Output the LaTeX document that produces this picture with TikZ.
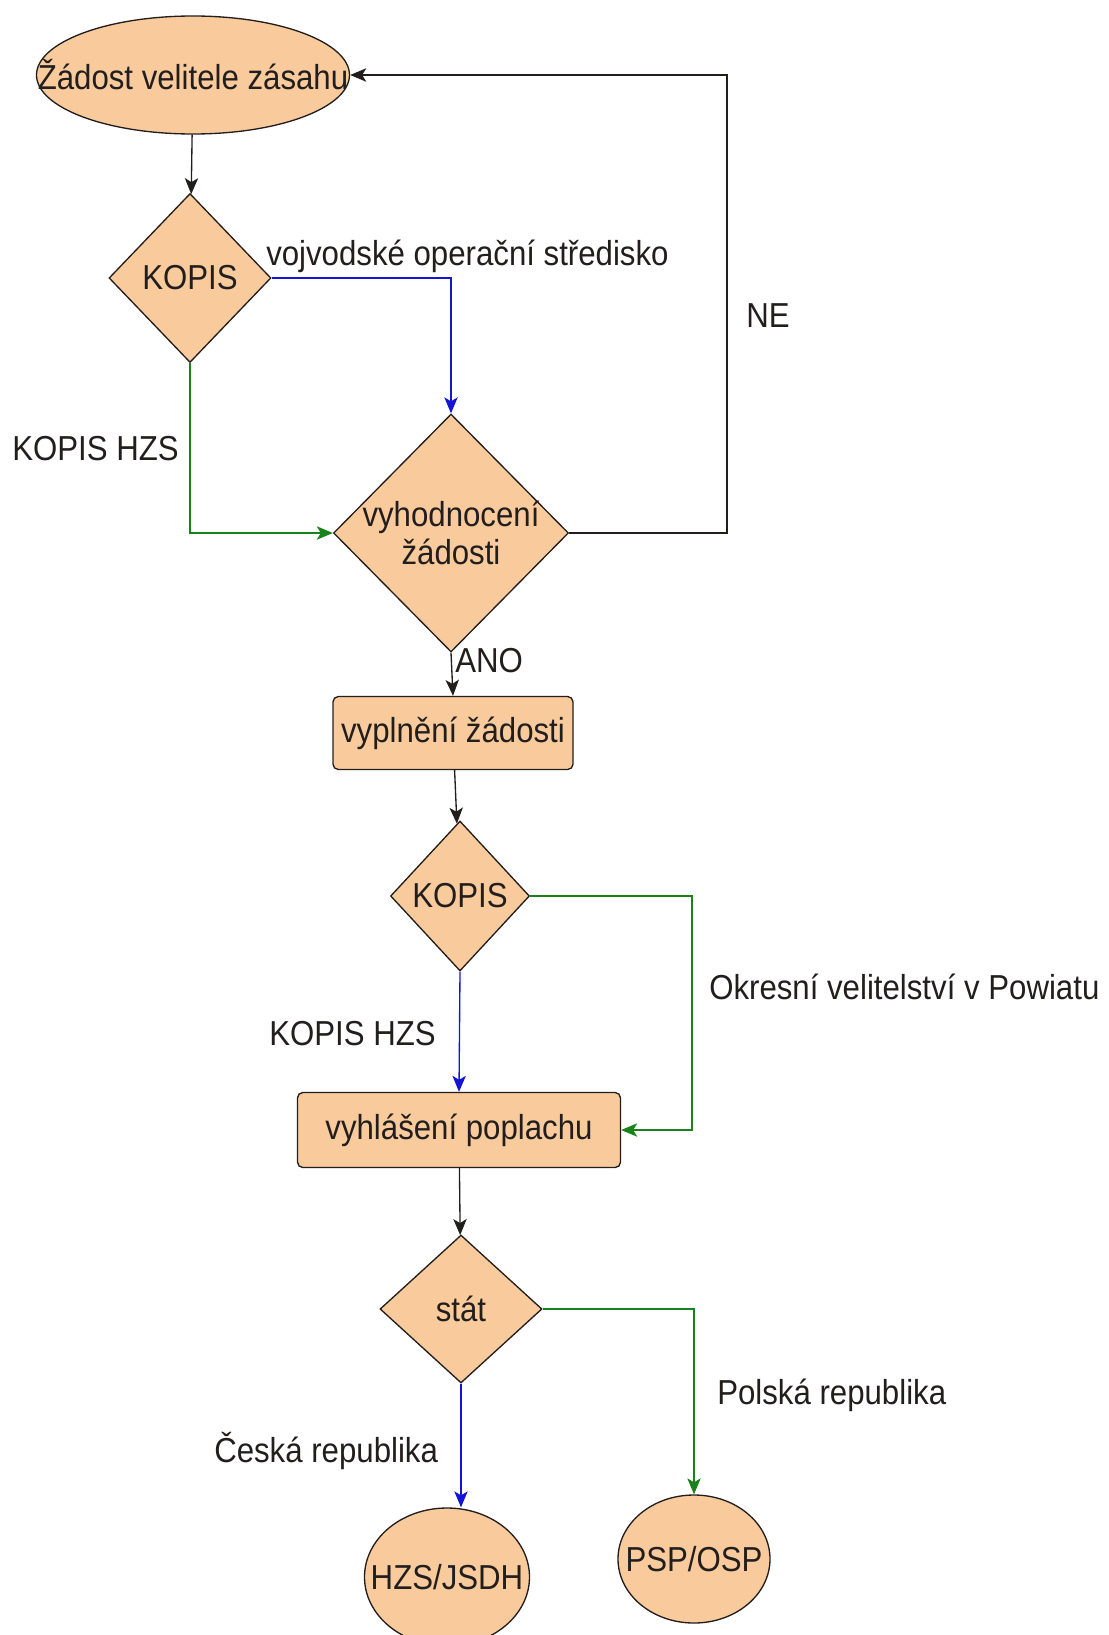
\documentclass[tikz,border=0pt]{standalone}
\usepackage{fontspec}
\setmainfont[FakeStretch=0.9]{Liberation Sans}
\usetikzlibrary{shapes.geometric, arrows.meta, positioning}
\definecolor{zasahPeach}{RGB}{249,203,156}
\definecolor{zasahBlue}{RGB}{20,20,215}
\definecolor{zasahGreen}{RGB}{25,130,25}
\definecolor{zasahInk}{RGB}{35,30,30}

\begin{document}
\begin{tikzpicture}[x=0.75pt, y=-0.75pt,
    every node/.style={font=\fontsize{26}{28}\selectfont, text=zasahInk},
    oval/.style={ellipse, draw=zasahInk, fill=zasahPeach, line width=1pt, inner sep=0pt},
    decision/.style={diamond, draw=zasahInk, fill=zasahPeach, line width=1pt, inner sep=0pt, align=center},
    stepbox/.style={rectangle, rounded corners=4pt, draw=zasahInk, fill=zasahPeach, line width=1pt, inner sep=0pt},
    flow/.style={line width=1pt, -{Stealth[length=12pt, width=10pt, inset=3pt]}},
    lbl/.style={anchor=base west, inner sep=0pt}
  ]
  \useasboundingbox (0,0) rectangle (1109,1635);

  % nodes
  \node[oval, minimum width=234.75pt, minimum height=88.5pt] (start) at (193,75) {\makebox[0pt]{Žádost velitele zásahu}};
  \node[decision, minimum width=121.5pt, minimum height=126.75pt] (kopisA) at (190,278) {KOPIS};
  \node[decision, minimum width=176.25pt, minimum height=178.5pt] (eval) at (451,533) {\makebox[0pt]{vyhodnocení}\\\makebox[0pt]{žádosti}};
  \node[stepbox, minimum width=180pt, minimum height=54.75pt] (fill) at (453,733) {vyplnění žádosti};
  \node[decision, minimum width=104.25pt, minimum height=112.5pt] (kopisB) at (460,896) {KOPIS};
  \node[stepbox, minimum width=242.25pt, minimum height=56.25pt] (alarm) at (459,1130) {vyhlášení poplachu};
  \node[decision, minimum width=121.5pt, minimum height=111pt] (stat) at (461,1309) {stát};
  \node[oval, minimum width=123.75pt, minimum height=103.5pt] (hzs) at (447,1577) {\makebox[0pt]{HZS/JSDH}};
  \node[oval, minimum width=114pt, minimum height=96pt] (psp) at (694,1559) {\makebox[0pt]{PSP/OSP}};

  \coordinate (loopNE) at (727,533);
  \coordinate (bendOV) at (692,896);

  % connectors
  \draw[flow, zasahInk] (start) -- (kopisA);
  \draw[flow, zasahBlue] (kopisA.east) -| (eval.north);
  \draw[flow, zasahGreen] (kopisA.south) |- (eval.west);
  \draw[flow, zasahInk] (eval.east) -- (loopNE) |- (start.east);
  \draw[flow, zasahInk] (eval.south) -- (fill.north);
  \draw[flow, zasahInk] (fill) -- (kopisB);
  \draw[flow, zasahGreen] (kopisB.east) -- (bendOV) |- (alarm.east);
  \draw[flow, zasahBlue] (kopisB.south) -- (alarm.north);
  \draw[flow, zasahInk] (alarm) -- (stat);
  \draw[flow, zasahGreen] (stat.east) -| (psp.north);
  \draw[flow, zasahBlue] (stat.south) -- (stat.south |- hzs.north);

  % labels
  \node[lbl] (lblVoj) at (266,265) {vojvodské operační středisko};
  \node[lbl] (lblHzsA) at (12,460) {KOPIS HZS};
  \node[lbl] (lblNe) at (746,327) {NE};
  \node[lbl] (lblAno) at (455,672) {ANO};
  \node[lbl] (lblOkres) at (709,999) {Okresní velitelství v Powiatu};
  \node[lbl] (lblHzsB) at (269,1045) {KOPIS HZS};
  \node[lbl] (lblPl) at (717,1404) {Polská republika};
  \node[lbl] (lblCz) at (214,1462) {Česká republika};
\end{tikzpicture}
\end{document}
